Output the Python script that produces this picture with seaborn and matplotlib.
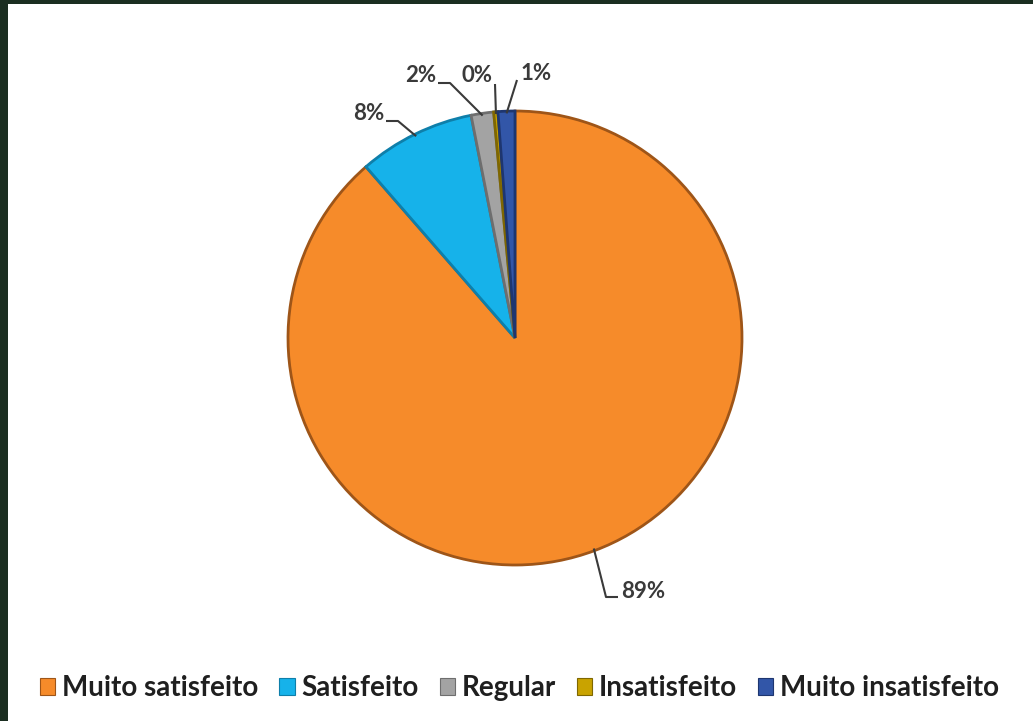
import numpy as np
import matplotlib
matplotlib.use("Agg")
import matplotlib.pyplot as plt
import seaborn as sns
from matplotlib.patches import Patch

categories = ["Muito satisfeito", "Satisfeito", "Regular", "Insatisfeito", "Muito insatisfeito"]
values = [88.6, 8.3, 1.6, 0.3, 1.2]
colors = ["#F68B2A", "#16B2EA", "#A3A3A3", "#C9A300", "#3256A8"]
edges = ["#9E5518", "#0E7FAA", "#6E6E6E", "#7F6700", "#1E3670"]

sns.set_theme(style="white")
plt.rcParams["font.family"] = ["Lato", "DejaVu Sans"]

W, H = 1033, 721
fig = plt.figure(figsize=(W / 100, H / 100), dpi=100)
fig.patch.set_facecolor("#1B2E21")
ax = fig.add_axes([8 / W, 0, 1 - 8 / W, 1 - 4 / H])
ax.set_facecolor("white")

cx, cy, r = 515, H - 338, 227
wedges, _ = ax.pie(values, colors=colors, startangle=90, counterclock=False,
                   center=(cx, cy), radius=r, frame=True,
                   wedgeprops=dict(linewidth=2))
for w, ec in zip(wedges, edges):
    w.set_edgecolor(ec)
ax.set_xlim(8, W)
ax.set_ylim(0, H - 4)
ax.set_aspect("equal")
ax.set_xticks([])
ax.set_yticks([])
for s in ax.spines.values():
    s.set_visible(False)

# percentage labels with leader lines (layout in pixel space from the top)
pct = [f"{round(v)}%" for v in values]
layout = [
    dict(text=(621, 591), ha="left", path=[(606, 597), (618, 597)]),
    dict(text=(384, 113), ha="right", path=[(398, 121), (386, 121)]),
    dict(text=(436, 75), ha="right", path=[(450, 83), (438, 83)]),
    dict(text=(493, 75), ha="right", path=[(495, 84)]),
    dict(text=(521, 73), ha="left", path=[(517, 80)]),
]
for w, lab, lay in zip(wedges, pct, layout):
    ang = np.deg2rad((w.theta1 + w.theta2) / 2)
    ex, ey = cx + r * 0.99 * np.cos(ang), cy + r * 0.99 * np.sin(ang)
    xs = [ex] + [p[0] for p in lay["path"]]
    ys = [ey] + [H - p[1] for p in lay["path"]]
    ax.plot(xs, ys, color="#3A3A3A", lw=1.5, solid_capstyle="butt")
    ax.text(lay["text"][0], H - lay["text"][1], lab, ha=lay["ha"], va="center",
            fontsize=16, fontweight="bold", color="#3A3A3A")

handles = [Patch(facecolor=c, edgecolor=e, linewidth=0.8) for c, e in zip(colors, edges)]
fig.legend(handles, categories, loc="center", bbox_to_anchor=(0.503, 1 - 688 / H),
           ncol=5, frameon=False, handlelength=0.55, handleheight=0.55,
           handletextpad=0.25, columnspacing=0.75, borderaxespad=0,
           prop=dict(family=["Lato", "DejaVu Sans"], weight="bold", size=20))
for t in fig.legends[0].get_texts():
    t.set_color("#1F1F1F")

fig.savefig("out.png", dpi=100, facecolor=fig.get_facecolor())
